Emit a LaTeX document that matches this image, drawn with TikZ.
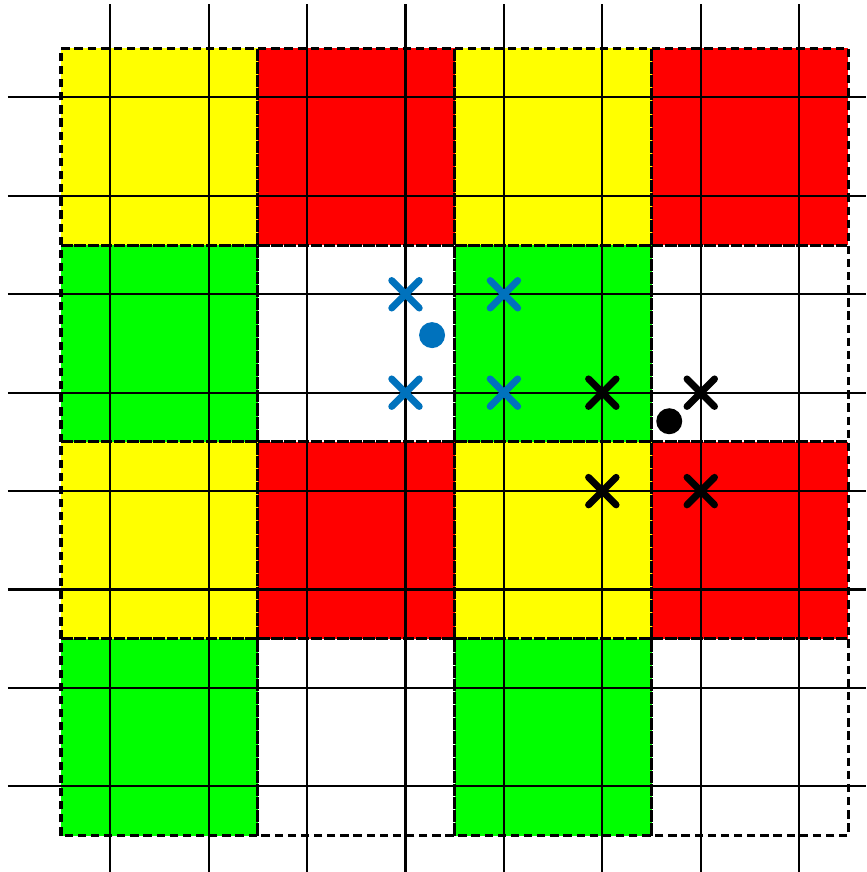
\documentclass[tikz,border=0pt]{standalone}
\begin{document}
\begin{tikzpicture}[line join=round]
\definecolor{blockyellow}{RGB}{255,255,0}
\definecolor{blockred}{RGB}{255,0,0}
\definecolor{blockgreen}{RGB}{0,255,0}
\definecolor{pointblue}{RGB}{0,114,189}

\tikzset{
  block/.style={draw=black,line width=0.9pt,dash pattern=on 2.4pt off 1.4pt},
  gridline/.style={black,line width=0.6pt},
  crossmark/.style={line width=2pt,line cap=round},
}

\useasboundingbox (-0.62,-0.37) rectangle (8.18,8.49);

% coloured blocks, two grid cells wide
\foreach \y/\ca/\cb in {6/blockyellow/blockred,4/blockgreen/white,
                        2/blockyellow/blockred,0/blockgreen/white}{
  \foreach \x in {0,4}{
    \fill[\ca] (\x,\y) rectangle ++(2,2);
    \fill[\cb] (\x+2,\y) rectangle ++(2,2);
  }
}
\foreach \y in {0,2,4,6}{
  \foreach \x in {0,2,4,6}{
    \draw[block] (\x,\y) rectangle ++(2,2);
  }
}

% the grid, shifted by half a cell
\foreach \k in {0.5,1.5,...,7.5}{
  \draw[gridline] (\k,-0.37)--(\k,8.45);
  \draw[gridline] (-0.54,\k)--(8.18,\k);
}

% neighbours of the blue point
\foreach \x/\y in {3.5/5.5,4.5/5.5,3.5/4.5,4.5/4.5}{
  \draw[crossmark,pointblue] (\x-0.14,\y-0.14)--(\x+0.14,\y+0.14)
    (\x-0.14,\y+0.14)--(\x+0.14,\y-0.14);
}
\fill[pointblue] (3.77,5.085) circle (0.132);

% neighbours of the black point
\foreach \x/\y in {5.5/4.5,6.5/4.5,5.5/3.5,6.5/3.5}{
  \draw[crossmark,black] (\x-0.14,\y-0.14)--(\x+0.14,\y+0.14)
    (\x-0.14,\y+0.14)--(\x+0.14,\y-0.14);
}
\fill[black] (6.18,4.21) circle (0.132);
\end{tikzpicture}
\end{document}
